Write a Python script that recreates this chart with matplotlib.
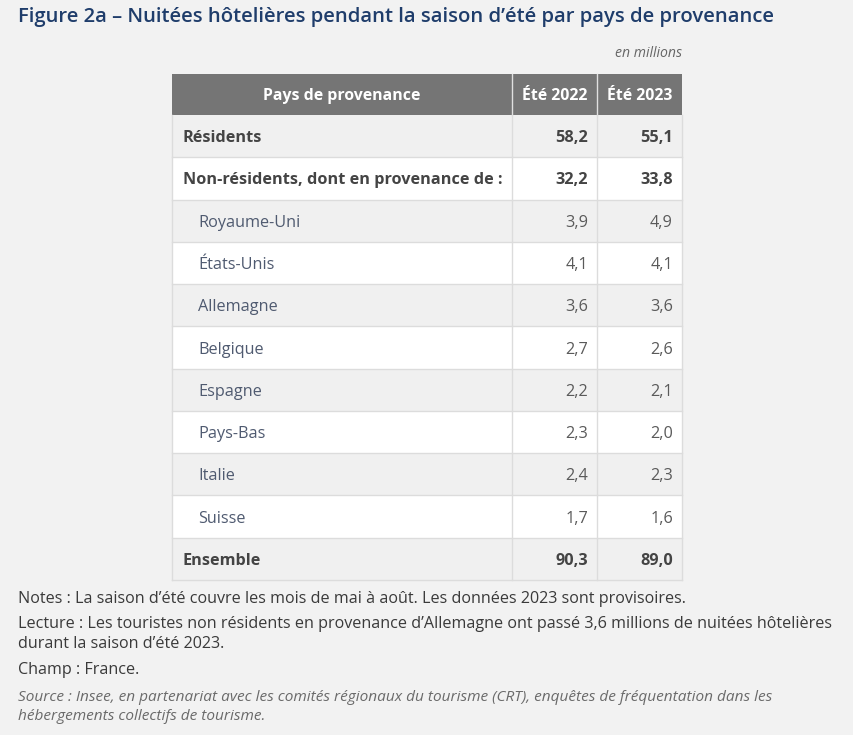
import matplotlib.pyplot as plt
from matplotlib.patches import Rectangle

plt.rcParams['font.family'] = ['Open Sans', 'DejaVu Sans']

# === Data ===
title = "Figure 2a – Nuitées hôtelières pendant la saison d’été par pays de provenance"
unit = "en millions"
headers = ["Pays de provenance", "Été 2022", "Été 2023"]
labels = ["Résidents", "Non-résidents, dont en provenance de :", "Royaume-Uni", "États-Unis",
          "Allemagne", "Belgique", "Espagne", "Pays-Bas", "Italie", "Suisse", "Ensemble"]
ete_2022 = [58.2, 32.2, 3.9, 4.1, 3.6, 2.7, 2.2, 2.3, 2.4, 1.7, 90.3]
ete_2023 = [55.1, 33.8, 4.9, 4.1, 3.6, 2.6, 2.1, 2.0, 2.3, 1.6, 89.0]
bold_rows = [True, True, False, False, False, False, False, False, False, False, True]
notes = [
    "Notes : La saison d’été couvre les mois de mai à août. Les données 2023 sont provisoires.",
    "Lecture : Les touristes non résidents en provenance d’Allemagne ont passé 3,6 millions de nuitées hôtelières\ndurant la saison d’été 2023.",
    "Champ : France.",
]
source = "Source : Insee, en partenariat avec les comités régionaux du tourisme (CRT), enquêtes de fréquentation dans les\nhébergements collectifs de tourisme."

BG = "#f2f2f2"
W, H = 854, 735

fig = plt.figure(figsize=(W / 100, H / 100), dpi=100, facecolor=BG)
ax = fig.add_axes([0, 0, 1, 1])
ax.set_xlim(0, W)
ax.set_ylim(H, 0)
ax.axis('off')

# title / unit
ax.text(18, 17, title, fontsize=14.6, fontweight='semibold', color="#1f3d6b", va='center', ha='left')
ax.text(682, 53, unit, fontsize=10.1, style='italic', color="#666666", va='center', ha='right')

# table geometry
col_x = [172, 512, 597, 682]
head_top, head_bot = 74, 115
row_h = (580 - head_bot) / len(labels)
grid = "#dcdcdc"
fs = 11.7
dy = 2  # small downward nudge so text sits like the original

# header
ax.add_patch(Rectangle((col_x[0], head_top), col_x[-1] - col_x[0], head_bot - head_top,
                       facecolor="#757575", edgecolor='none'))
for i, h in enumerate(headers):
    cx = (col_x[i] + col_x[i + 1]) / 2
    ax.text(cx, (head_top + head_bot) / 2 + 1, h, fontsize=11.4, fontweight='bold', color='white',
            ha='center', va='center')
for x in col_x[1:-1]:
    ax.plot([x, x], [head_top, head_bot], color="#e0e0e0", lw=1)

def fmt(v):
    return f"{v:.1f}".replace('.', ',')

for r, lab in enumerate(labels):
    y0 = head_bot + r * row_h
    fc = "#f0f0f0" if r % 2 == 0 else "white"
    ax.add_patch(Rectangle((col_x[0], y0), col_x[-1] - col_x[0], row_h,
                           facecolor=fc, edgecolor='none'))
    yc = y0 + row_h / 2 + dy
    if bold_rows[r]:
        ax.text(183, yc, lab, fontsize=fs, fontweight='bold', color="#444444", va='center', ha='left')
        wt, nc = 'bold', "#444444"
    else:
        ax.text(198, yc, lab, fontsize=fs, color="#4f5a70", va='center', ha='left')
        wt, nc = 'normal', "#5a5a5a"
    ax.text(col_x[2] - 9, yc, fmt(ete_2022[r]), fontsize=fs, fontweight=wt, color=nc, va='center', ha='right')
    ax.text(col_x[3] - 9, yc, fmt(ete_2023[r]), fontsize=fs, fontweight=wt, color=nc, va='center', ha='right')
    ax.plot([col_x[0], col_x[-1]], [y0 + row_h, y0 + row_h], color=grid, lw=1)

tab_bot = head_bot + len(labels) * row_h
for x in col_x:
    ax.plot([x, x], [head_bot, tab_bot], color=grid, lw=1)

# notes
ax.text(18, 599, notes[0], fontsize=11.6, color="#3a3a3a", va='center', ha='left')
ax.text(18, 634, notes[1], fontsize=11.6, color="#3a3a3a", va='center', ha='left', linespacing=1.25)
ax.text(18, 670, notes[2], fontsize=11.6, color="#3a3a3a", va='center', ha='left')
ax.text(18, 707, source, fontsize=11.1, style='italic', color="#6a6a6a", va='center', ha='left', linespacing=1.35)

fig.savefig("out.png", dpi=100, facecolor=BG)
